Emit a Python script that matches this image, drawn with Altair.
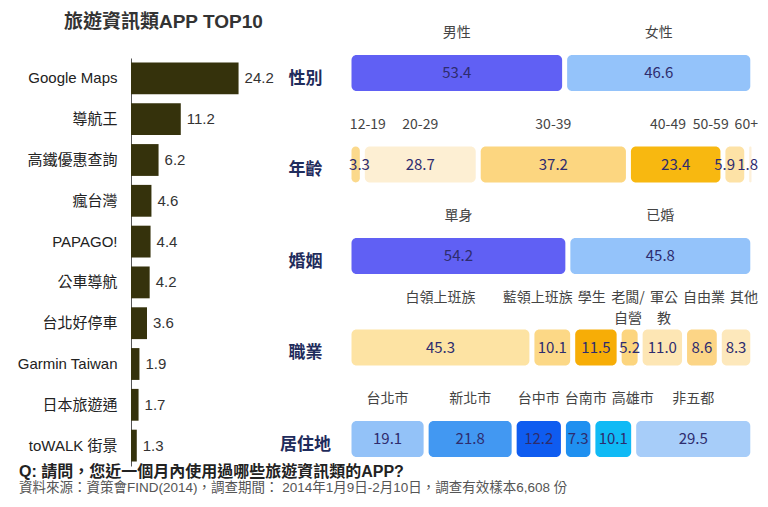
import altair as alt
import pandas as pd

# ---------------- data ----------------
apps = ["Google Maps", "導航王", "高鐵優惠查詢", "瘋台灣", "PAPAGO!",
        "公車導航", "台北好停車", "Garmin Taiwan", "日本旅遊通", "toWALK 街景"]
app_share = [24.2, 11.2, 6.2, 4.6, 4.4, 4.2, 3.6, 1.9, 1.7, 1.3]

row_names = ["性別", "年齡", "婚姻", "職業", "居住地"]
gender_cats = ["男性", "女性"]
gender_vals = [53.4, 46.6]
age_cats = ["12-19", "20-29", "30-39", "40-49", "50-59", "60+"]
age_vals = [3.3, 28.7, 37.2, 23.4, 5.9, 1.8]
marital_cats = ["單身", "已婚"]
marital_vals = [54.2, 45.8]
job_cats = ["白領上班族", "藍領上班族", "學生", "老闆/自營", "軍公教", "自由業", "其他"]
job_vals = [45.3, 10.1, 11.5, 5.2, 11.0, 8.6, 8.3]
city_cats = ["台北市", "新北市", "台中市", "台南市", "高雄市", "非五都"]
city_vals = [19.1, 21.8, 12.2, 7.3, 10.1, 29.5]

# ---------------- styles ----------------
CJK = "Noto Sans CJK TC"
LAT = "Liberation Sans, Noto Sans CJK TC"
wrap = {"老闆/自營": "老闆/\n自營", "軍公教": "軍公\n教"}
seg_colors = {
    "性別|男性": "#6060f4", "性別|女性": "#94c3fa",
    "年齡|12-19": "#fbd98c", "年齡|20-29": "#fdefd3", "年齡|30-39": "#fcd680",
    "年齡|40-49": "#f8b810", "年齡|50-59": "#fde2a6", "年齡|60+": "#fdf0d9",
    "婚姻|單身": "#6060f4", "婚姻|已婚": "#94c3fa",
    "職業|白領上班族": "#fde3a3", "職業|藍領上班族": "#fcd886", "職業|學生": "#f7ad06",
    "職業|老闆/自營": "#fcd57e", "職業|軍公教": "#fde6b4", "職業|自由業": "#fcd586",
    "職業|其他": "#fde8bb",
    "居住地|台北市": "#93c2f8", "居住地|新北市": "#4298f2", "居住地|台中市": "#0f5cf0",
    "居住地|台南市": "#1f90f0", "居住地|高雄市": "#10baf5", "居住地|非五都": "#a7cdf9",
}

RIGHT_W = 405
X_MAX = 100.3
PPU = RIGHT_W / X_MAX          # pixels per data unit on the right panel
LABEL_FS = 14
VALUE_FS = 15


def text_width(s, fs):
    w = 0.0
    for line in s.split("\n"):
        lw = 0.0
        for ch in line:
            if ord(ch) > 0x2E80:
                lw += fs
            elif ch == ".":
                lw += 0.28 * fs
            elif ch in "-/":
                lw += 0.45 * fs
            else:
                lw += 0.56 * fs
        w = max(w, lw)
    return w


def spread(mids, widths, lo, hi, pad=3.0):
    """1-D label repel: keep labels near their bar centre without overlapping."""
    c = [m * PPU for m in mids]
    n = len(c)
    c[0] = max(c[0], lo * PPU + widths[0] / 2)
    for i in range(1, n):
        need = c[i - 1] + (widths[i - 1] + widths[i]) / 2 + pad
        if c[i] < need:
            c[i] = need
    if c[-1] + widths[-1] / 2 > hi * PPU:
        c[-1] = hi * PPU - widths[-1] / 2
        for i in range(n - 2, -1, -1):
            need = c[i + 1] - (widths[i + 1] + widths[i]) / 2 - pad
            if c[i] > need:
                c[i] = need
    return [x / PPU for x in c]


# ---------------- left: TOP10 ----------------
left_df = pd.DataFrame({"app": apps, "share": app_share})
lbase = alt.Chart(left_df).encode(
    y=alt.Y("app:N", sort=apps,
            scale=alt.Scale(paddingInner=0.22, paddingOuter=0.11),
            axis=alt.Axis(title=None, ticks=False, labelFontSize=15, labelFont=LAT,
                          labelColor="#222", labelPadding=14, labelLimit=200,
                          domainColor="#555", domainWidth=1)),
    x=alt.X("share:Q", scale=alt.Scale(domain=[0, 27], nice=False), axis=None),
)
lbars = lbase.mark_bar(color="#35320c")
ltext = lbase.mark_text(align="left", dx=6, fontSize=15, font=LAT, color="#333").encode(
    text=alt.Text("share:Q", format=".1f"))
left = (lbars + ltext).properties(
    width=120, height=408,
    title=alt.TitleParams("旅遊資訊類APP TOP10", fontSize=19, font=LAT, fontWeight="bold",
                          color="#333", anchor="start", dx=47, offset=26),
)

# ---------------- right: profile rows ----------------
rows = []
for rname, cats, vals in [("性別", gender_cats, gender_vals), ("年齡", age_cats, age_vals),
                          ("婚姻", marital_cats, marital_vals), ("職業", job_cats, job_vals),
                          ("居住地", city_cats, city_vals)]:
    starts, mids = [], []
    cum = 0.0
    for v in vals:
        starts.append(cum)
        mids.append(cum + v / 2)
        cum += v
    labels = [wrap.get(c, c) for c in cats]
    vtexts = [f"{v:.1f}" for v in vals]
    multiline = any("\n" in s for s in labels)
    lab_x = spread(mids, [text_width(s, LABEL_FS) for s in labels], 0, X_MAX + 1.0, pad=5.0)
    val_x = spread(mids, [text_width(s, VALUE_FS) for s in vtexts], 0, X_MAX + 1.0, pad=2.0)
    for c, lab, v, s, lx, vx in zip(cats, labels, vals, starts, lab_x, val_x):
        rows.append({"row": rname, "cat": c, "label": lab, "value": v,
                     "start": s, "end": s + v, "lab_x": lx, "val_x": vx,
                     "multi": multiline, "key": f"{rname}|{c}"})
seg = pd.DataFrame(rows)
keys = list(seg_colors.keys())

rbase = alt.Chart(seg).encode(
    y=alt.Y("row:N", sort=row_names,
            scale=alt.Scale(type="point", range=[15, 381], padding=0),
            axis=alt.Axis(title=None, domain=False, ticks=False, tickSize=0,
                          labelFontSize=17, labelFontWeight="bold", labelFont=CJK,
                          labelColor="#1f2c5c", labelAlign="center", labelPadding=44,
                          labelOffset=5)),
)
xscale = alt.Scale(domain=[0, X_MAX], nice=False)
rbars = rbase.mark_bar(size=36, cornerRadius=5, xOffset=2.5, x2Offset=-2.5).encode(
    x=alt.X("start:Q", scale=xscale, axis=None),
    x2="end:Q",
    color=alt.Color("key:N", scale=alt.Scale(domain=keys, range=[seg_colors[k] for k in keys]),
                    legend=None),
)
rvals = rbase.mark_text(fontSize=VALUE_FS, font=CJK, color="#2e2c6e").encode(
    x=alt.X("val_x:Q", scale=xscale, axis=None),
    text=alt.Text("value:Q", format=".1f"),
)
lab_enc = dict(x=alt.X("lab_x:Q", scale=xscale, axis=None), text="label:N")
rlabs_single = rbase.transform_filter("!datum.multi").mark_text(
    fontSize=LABEL_FS, font=CJK, color="#444", baseline="top", dy=-47).encode(**lab_enc)
rlabs_multi = rbase.transform_filter("datum.multi").mark_text(
    fontSize=LABEL_FS, font=CJK, color="#444", baseline="top", dy=-57,
    lineBreak="\n", lineHeight=21).encode(**lab_enc)
right = (rbars + rvals + rlabs_single + rlabs_multi).properties(width=RIGHT_W, height=408)

chart = alt.hconcat(left, right, spacing=5).properties(
    padding={"left": 8, "top": 5, "right": 0, "bottom": 2},
    title=alt.TitleParams(
        text="Q: 請問，您近一個月內使用過哪些旅遊資訊類的APP?",
        subtitle="資料來源：資策會FIND(2014)，調查期間： 2014年1月9日-2月10日，調查有效樣本6,608 份",
        orient="bottom", anchor="start", fontSize=16, fontWeight="bold", font=LAT,
        color="#222", subtitleFontSize=13.5, subtitleFont=LAT, subtitleColor="#555",
        offset=-2, subtitlePadding=1, dx=2),
).configure_view(strokeWidth=0)

chart.save("out.html", embed_options={"renderer": "svg", "actions": False})
